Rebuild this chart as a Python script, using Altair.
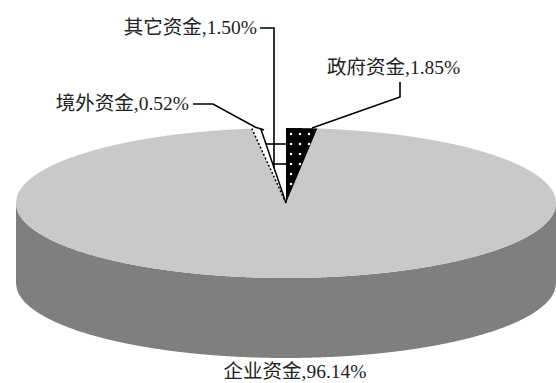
import altair as alt
import numpy as np
import pandas as pd

# Funding sources, clockwise from 12 o'clock
names = ["政府资金", "企业资金", "境外资金", "其它资金"]
shares = [1.85, 96.14, 0.52, 1.50]  # percent

W, H = 556, 383
CX, CY = 286.0, 203.0      # centre of the pie's top face (pixels)
RA, RB = 270.0, 75.0       # semi-axes of the top face
DEPTH = 80.0               # thickness of the disc
TOP_GRAY = "#c9c9c9"
SIDE_GRAY = "#7f7f7f"
FONT = "Liberation Serif, Noto Sans CJK SC"

total = sum(shares)
edges = np.concatenate([[0.0], np.cumsum(shares) / total * 360.0])
slice_deg = {n: (edges[i], edges[i + 1]) for i, n in enumerate(names)}


def ellipse_up(x):
    return RB * np.sqrt(np.clip(1 - (x / RA) ** 2, 0, None))


def slope(t):
    t = np.radians(t)
    return np.inf if t == 0 else (RB / RA) / np.tan(t)


def wedge(name):
    """Thin wedge of the top face near 12 o'clock, as an x-monotone band."""
    t0, t1 = slice_deg[name]
    sign = 1
    if t0 >= 180:
        t0, t1 = 360 - t1, 360 - t0
        sign = -1
    xe = RA * np.sin(np.radians(t1))
    xs = np.unique(np.concatenate([np.linspace(0, xe, 240), [RA * np.sin(np.radians(t0))]]))
    k0, k1 = slope(t0), slope(t1)
    upper = np.minimum(xs * k0 if np.isfinite(k0) else np.full_like(xs, np.inf), ellipse_up(xs))
    upper[0] = ellipse_up(0.0) if not np.isfinite(k0) else 0.0
    lower = xs * k1
    return pd.DataFrame({
        "slice": name,
        "x": CX + sign * xs,
        "y": CY - upper,
        "y2": CY - lower,
    })


def ray(deg):
    """Straight edge from the apex to the rim at the given angle."""
    t = np.radians(deg)
    X, Y = RA * np.sin(t), RB * np.cos(t)
    return [(CX, CY), (CX + X, CY - Y)]


xscale = alt.Scale(domain=[0, W], nice=False, zero=False)
yscale = alt.Scale(domain=[0, H], reverse=True, nice=False, zero=False)
X = lambda f="x": alt.X(f"{f}:Q", scale=xscale, axis=None)
Y = lambda f="y": alt.Y(f"{f}:Q", scale=yscale, axis=None)

# Disc side and top face
xx = np.linspace(CX - RA, CX + RA, 721)
low = CY + ellipse_up(xx - CX)
side_df = pd.DataFrame({"x": xx, "y": low, "y2": low + DEPTH})
top_df = pd.DataFrame({"x": xx, "y": CY - ellipse_up(xx - CX), "y2": low})

side = alt.Chart(side_df).mark_area(color=SIDE_GRAY, opacity=1).encode(
    x=X(), y=Y(), y2="y2:Q")
top = alt.Chart(top_df).mark_area(color=TOP_GRAY, opacity=1).encode(
    x=X(), y=Y(), y2="y2:Q")

# Small slices
small = ["政府资金", "境外资金", "其它资金"]
wedge_df = pd.concat([wedge(n) for n in small], ignore_index=True)
wedges = alt.Chart(wedge_df).mark_area(opacity=1).encode(
    x=X(), y=Y(), y2="y2:Q",
    color=alt.Color("slice:N", legend=None,
                    scale=alt.Scale(domain=small, range=["#000000", "#ffffff", "#ffffff"])),
)

# White dot pattern on the black slice
g0, g1 = slice_deg["政府资金"]
dots = []
for py in np.arange(134, CY - 4, 10):
    for px in np.arange(CX + 5, CX + 40, 9):
        Xd, Yd = px - CX, CY - py
        if Yd < ellipse_up(Xd) - 1 and Yd > Xd * slope(g1) + 2:
            dots.append({"x": px, "y": py})
dot_layer = alt.Chart(pd.DataFrame(dots)).mark_square(
    size=5, color="white", opacity=1).encode(x=X(), y=Y())

# Slice edges: solid between 境外/其它, dotted on the outer edge of 境外
b_other = slice_deg["其它资金"][0]
b_abroad = slice_deg["境外资金"][0]
edge_solid = alt.Chart(pd.DataFrame(
    [{"x": p[0], "y": p[1], "o": i} for i, p in enumerate(ray(b_other))])
).mark_line(color="black", strokeWidth=1.5).encode(x=X(), y=Y(), order="o:Q")
edge_dot = alt.Chart(pd.DataFrame(
    [{"x": p[0], "y": p[1], "o": i} for i, p in enumerate(ray(b_abroad))])
).mark_line(color="black", strokeWidth=1.5, strokeDash=[2, 2]).encode(
    x=X(), y=Y(), order="o:Q")

# Leader lines and the grid strokes inside the white slice
k_other = slope(360 - b_other)
lead_x = 274.0
leaders = {
    "其它资金": [(260, 28), (lead_x, 28), (lead_x, CY - (CX - lead_x) * k_other)],
    "政府资金": [(400, 82), (400, 97), (312, 128)],
    "境外资金": [(193, 104), (213, 104), (255, 127), (264, 130)],
}
for i, py in enumerate([144, 164]):
    leaders[f"grid{i}"] = [(CX - (CY - py) / k_other, py), (CX, py)]
lead_rows = [{"id": k, "o": i, "x": p[0], "y": p[1]}
             for k, pts in leaders.items() for i, p in enumerate(pts)]
lead_layer = alt.Chart(pd.DataFrame(lead_rows)).mark_line(
    color="black", strokeWidth=1.6).encode(
    x=X(), y=Y(), detail="id:N", order="o:Q")

# Labels
label_pos = {
    "其它资金": (257, 28, "right"),
    "政府资金": (327, 68, "left"),
    "境外资金": (189, 104, "right"),
    "企业资金": (295, 372, "center"),
}
label_rows = [{"text": f"{n},{v:.2f}%", "x": label_pos[n][0], "y": label_pos[n][1],
               "align": label_pos[n][2]} for n, v in zip(names, shares)]
label_df = pd.DataFrame(label_rows)
text_layers = [
    alt.Chart(label_df[label_df["align"] == a]).mark_text(
        align=a, baseline="middle", font=FONT, fontSize=19.5, color="#222222"
    ).encode(x=X(), y=Y(), text="text:N")
    for a in ["left", "right", "center"]
]

chart = alt.layer(
    side, top, wedges, dot_layer, edge_solid, edge_dot, lead_layer, *text_layers
).properties(
    width=W, height=H, padding=0, autosize="none", background="white"
).configure_view(stroke=None)

chart.save("out.html", embed_options={"renderer": "svg", "actions": False})
